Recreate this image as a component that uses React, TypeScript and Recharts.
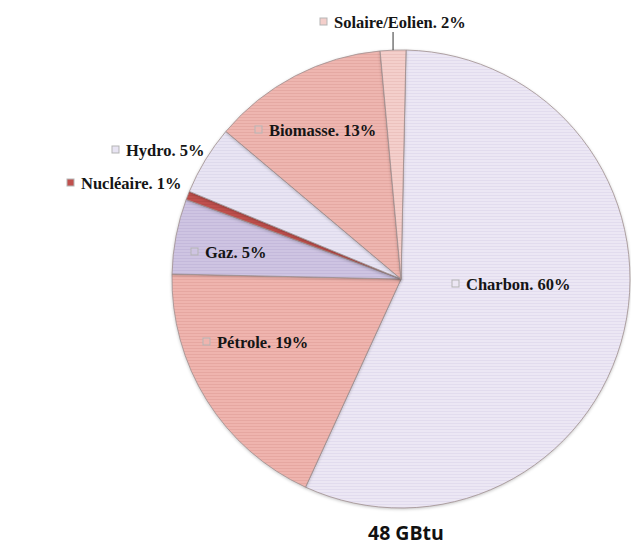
import { PieChart, Pie, Cell } from 'recharts';

const categories = ['Charbon', 'Pétrole', 'Gaz', 'Nucléaire', 'Hydro', 'Biomasse', 'Solaire/Eolien'];
const shares = [56.5, 18.5, 5.3, 0.6, 4.9, 12.4, 1.8];
const shareLabels = ['60%', '19%', '5%', '1%', '5%', '13%', '2%'];
const totalLabel = '48 GBtu';

const fills = ['#ece7f4', '#efb4ae', '#cec4e2', '#c0504d', '#e8e4f3', '#eeb6b0', '#f4cfcb'];
const stripes = ['#e2dcee', '#e6a7a1', '#c4b9db', '#b54a47', '#dedaec', '#e5a9a3', '#ecc2be'];
// label marker position, relative to the pie centre
const labelOffsets: [number, number][] = [
  [51, 5], [-198, 63], [-210, -27], [-334, -96], [-289, -129], [-146, -149], [-81, -257],
];

const chartData = categories.map((name, i) => ({ name, value: shares[i], pct: shareLabels[i] }));

const RADIAN = Math.PI / 180;

function renderLabel(props: any) {
  const { cx, cy, index, midAngle, outerRadius } = props;
  const [dx, dy] = labelOffsets[index];
  const mx = Number(cx) + dx;
  const my = Number(cy) + dy;
  const d = chartData[index];
  let leader = null;
  if (index === chartData.length - 1) {
    const ex = Number(cx) + outerRadius * Math.cos(-midAngle * RADIAN);
    const ey = Number(cy) + outerRadius * Math.sin(-midAngle * RADIAN);
    leader = <line x1={ex} y1={my + 10} x2={ex} y2={ey} stroke="#333" strokeWidth={1} />;
  }
  return (
    <g key={`lbl-${index}`}>
      {leader}
      <rect x={mx} y={my - 4} width={7} height={7} fill={fills[index]} stroke="#b5b5b5" strokeWidth={1} />
      <text
        x={mx + 14}
        y={my + 5.5}
        fontFamily="'Liberation Serif', 'Times New Roman', serif"
        fontWeight="bold"
        fontSize={16.5}
        fill="#151515"
      >
        {`${d.name}. ${d.pct}`}
      </text>
    </g>
  );
}

export default function App() {
  return (
    <div style={{ position: 'absolute', left: 0, top: 0, width: 631, height: 547, background: '#fff' }}>
      <style>{`.recharts-pie-sector { filter: drop-shadow(0px 1px 1.5px rgba(0,0,0,0.22)); }`}</style>
      <svg width={0} height={0} style={{ position: 'absolute' }}>
        <defs>
          {fills.map((f, i) => (
            <pattern key={i} id={`stripe-${i}`} patternUnits="userSpaceOnUse" width={6} height={3}>
              <rect width={6} height={3} fill={f} />
              <rect y={0} width={6} height={1} fill={stripes[i]} />
            </pattern>
          ))}
        </defs>
      </svg>
      <PieChart width={631} height={547} margin={{ top: 0, right: 0, bottom: 0, left: 0 }}>
        <Pie
          data={chartData}
          dataKey="value"
          nameKey="name"
          cx={401}
          cy={279}
          outerRadius={229}
          startAngle={88.75}
          endAngle={-271.25}
          stroke="#a08f8f"
          strokeWidth={0.8}
          labelLine={false}
          label={renderLabel}
          isAnimationActive={false}
        >
          {chartData.map((_, i) => (
            <Cell key={i} fill={`url(#stripe-${i})`} />
          ))}
        </Pie>
      </PieChart>
      <div
        style={{
          position: 'absolute',
          left: 368,
          top: 523,
          fontFamily: "'Open Sans', sans-serif",
          fontWeight: 700,
          fontSize: 19.5,
          lineHeight: '20px',
          color: '#111',
          whiteSpace: 'nowrap',
        }}
      >
        {totalLabel}
      </div>
    </div>
  );
}
